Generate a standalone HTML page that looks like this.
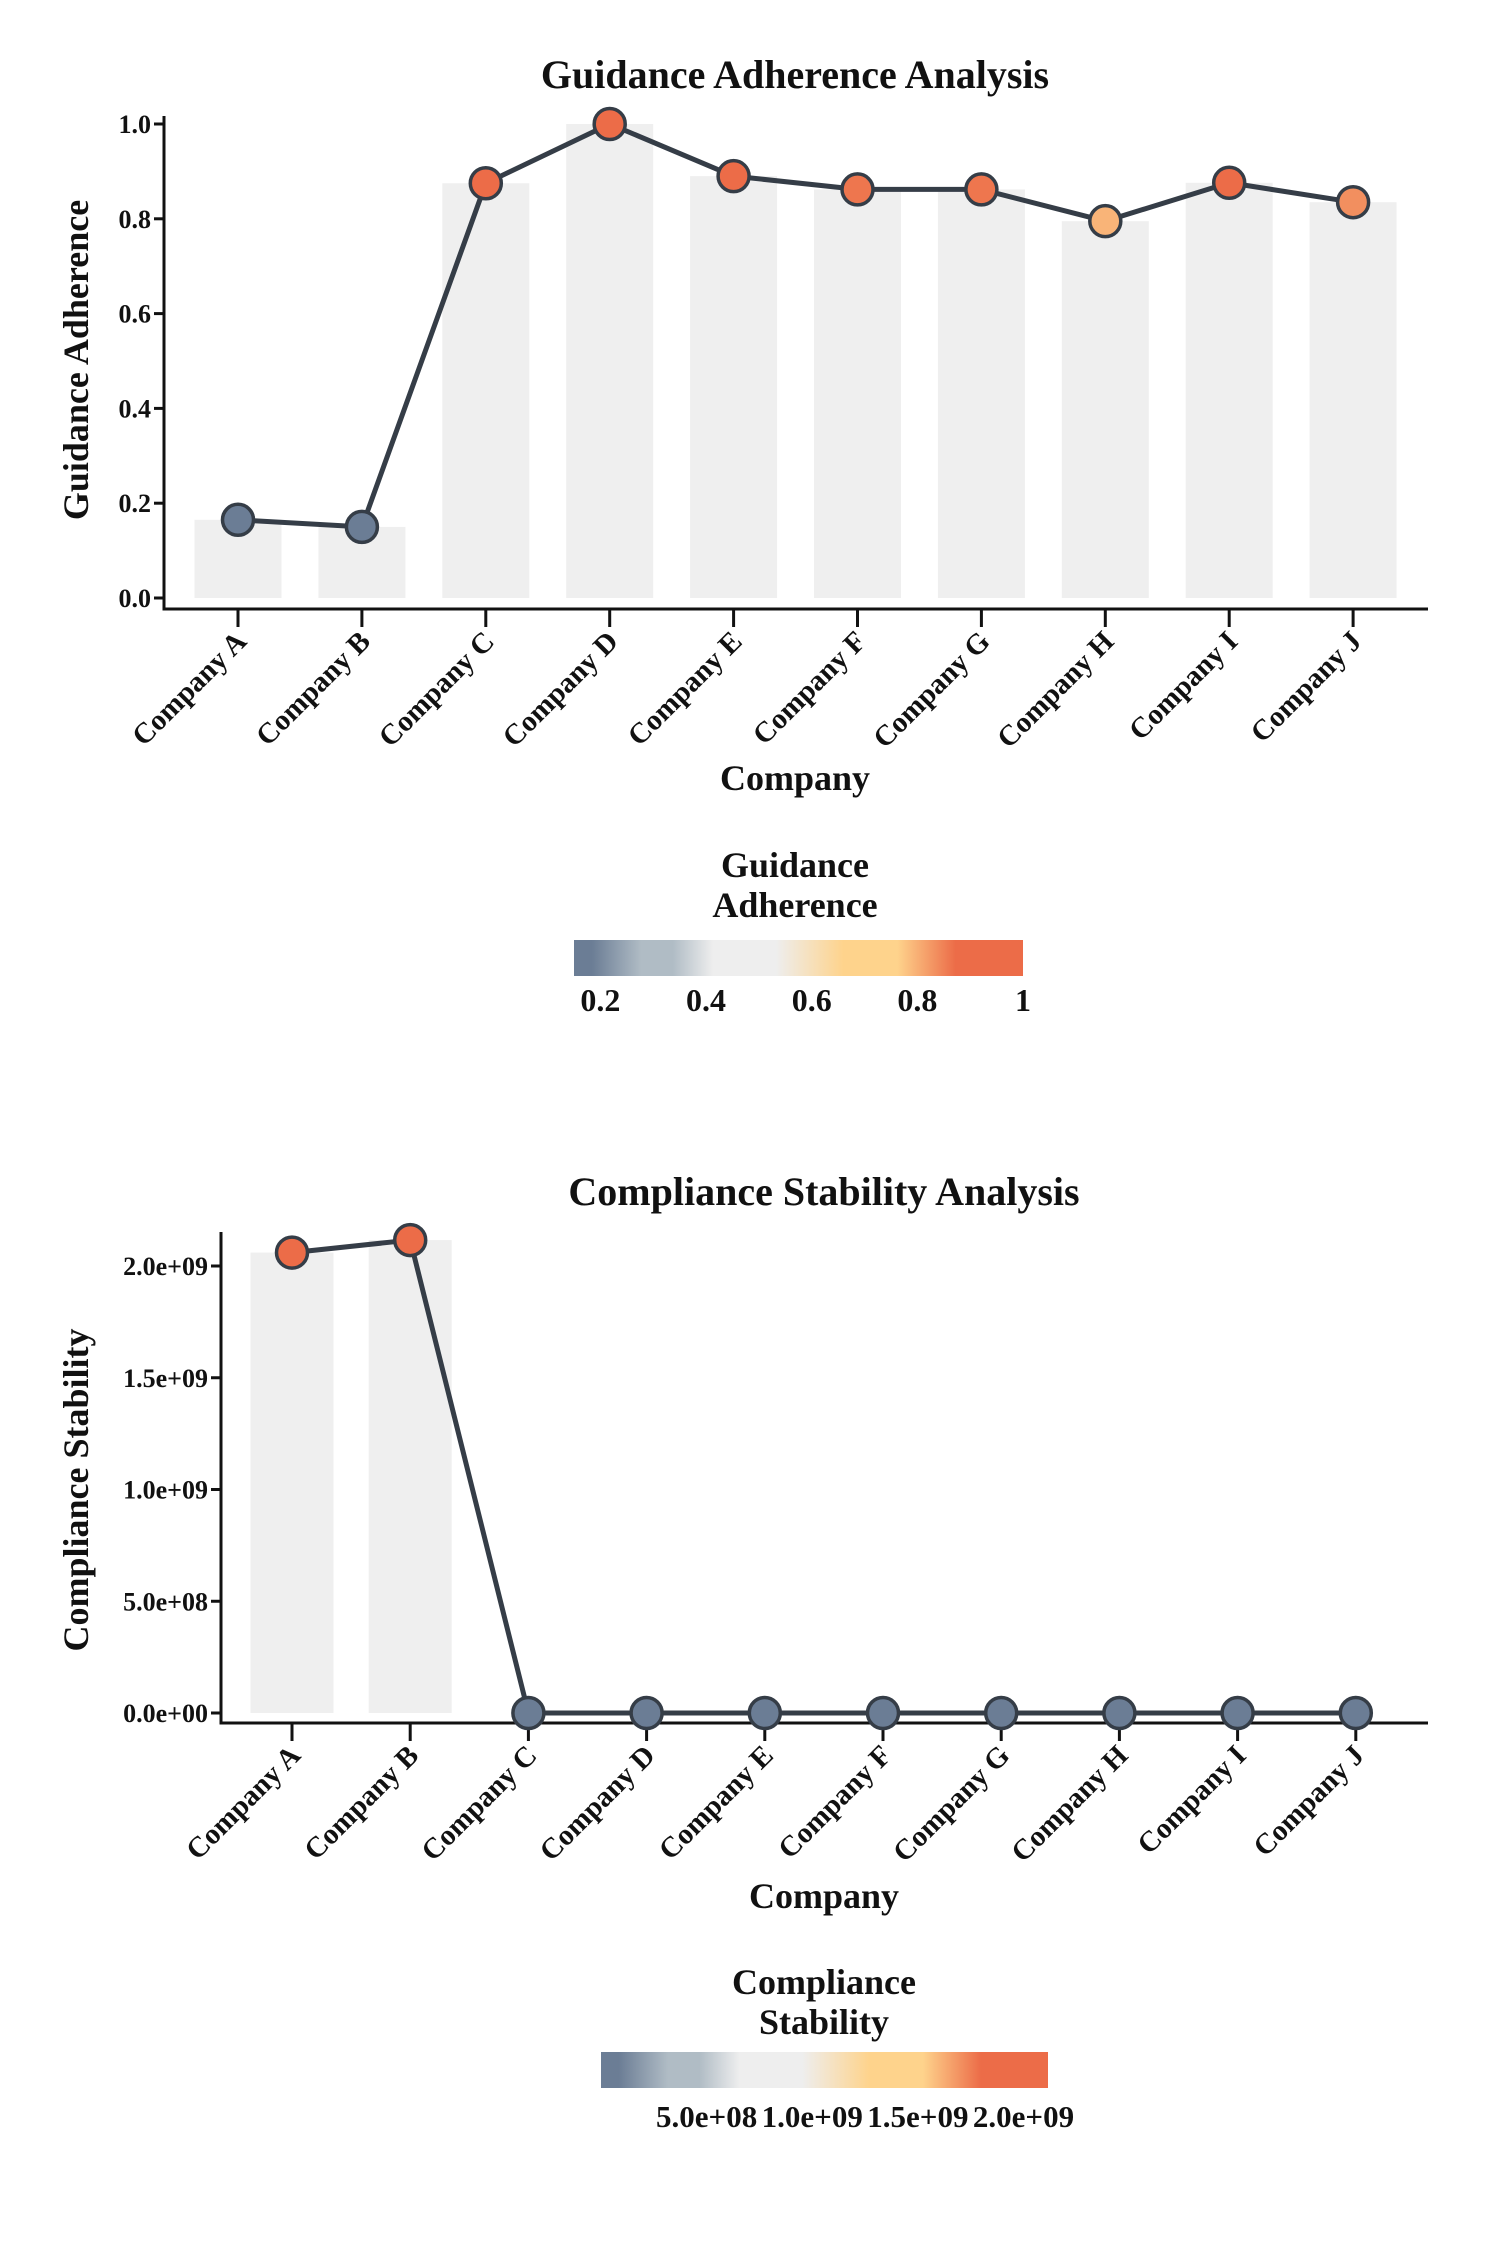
<!DOCTYPE html>
<html><head><meta charset="utf-8">
<style>
html,body{margin:0;padding:0;background:#fff;}
svg{display:block;font-family:"Liberation Serif",serif;font-weight:bold;}
</style></head>
<body>
<svg id="chart" width="1495" height="2242" viewBox="0 0 1495 2242" xmlns="http://www.w3.org/2000/svg">
<defs>
<linearGradient id="cmap" x1="0" x2="1" y1="0" y2="0">
<stop offset="0" stop-color="#6b7d95"/><stop offset="0.04" stop-color="#6b7d95"/>
<stop offset="0.15" stop-color="#b0bcc5"/><stop offset="0.22" stop-color="#b0bcc5"/>
<stop offset="0.31" stop-color="#eeeeee"/><stop offset="0.45" stop-color="#eeeeee"/>
<stop offset="0.6" stop-color="#fed38c"/><stop offset="0.72" stop-color="#fed38c"/>
<stop offset="0.85" stop-color="#ec6c48"/><stop offset="1" stop-color="#ec6c48"/>
</linearGradient>
</defs>
</svg>
<script>
const categories = ["Company A","Company B","Company C","Company D","Company E","Company F","Company G","Company H","Company I","Company J"];
const adherenceValues = [0.165,0.15,0.875,1.0,0.89,0.862,0.862,0.795,0.876,0.835];
const stabilityValues = [2.06e9,2.116e9,0,0,0,0,0,0,0,0];
const adherenceTicks = [0,0.2,0.4,0.6,0.8,1.0];
const adherenceTickLabels = ["0.0","0.2","0.4","0.6","0.8","1.0"];
const stabilityTicks = [0,5e8,1e9,1.5e9,2e9];
const stabilityTickLabels = ["0.0e+00","5.0e+08","1.0e+09","1.5e+09","2.0e+09"];
const adherenceCbTicks = [0.2,0.4,0.6,0.8,1];
const adherenceCbLabels = ["0.2","0.4","0.6","0.8","1"];
const stabilityCbTicks = [5e8,1e9,1.5e9,2e9];
const stabilityCbLabels = ["5.0e+08","1.0e+09","1.5e+09","2.0e+09"];

const NS="http://www.w3.org/2000/svg";
const svg=document.getElementById('chart');
function mk(tag,attrs,parent,text){const e=document.createElementNS(NS,tag);for(const k in attrs)e.setAttribute(k,attrs[k]);if(text!==undefined)e.textContent=text;(parent||svg).appendChild(e);return e;}
const stops=[[0,[107,125,149]],[0.04,[107,125,149]],[0.15,[176,188,197]],[0.22,[176,188,197]],[0.31,[238,238,238]],[0.45,[238,238,238]],[0.6,[254,211,140]],[0.72,[254,211,140]],[0.85,[236,108,72]],[1,[236,108,72]]];
function cmap(t){t=Math.max(0,Math.min(1,t));for(let i=1;i<stops.length;i++){if(t<=stops[i][0]){const a=stops[i-1],b=stops[i];const f=(t-a[0])/((b[0]-a[0])||1);const c=a[1].map((v,j)=>Math.round(v+(b[1][j]-v)*f));return `rgb(${c.join(',')})`;}}return 'rgb(236,108,72)';}

function drawChart(cfg){
  const g=mk('g',{});
  
  
  const x0=cfg.xFirst, step=cfg.step;
  const xs=i=>x0+i*step;
  const ys=v=>cfg.y0-(v-cfg.yMin)/(cfg.yMax-cfg.yMin)*(cfg.y0-cfg.y1);
  const t=mk('text',{x:cfg.titleX,y:cfg.titleY,'text-anchor':'middle','font-size':40,fill:'#111'},g,cfg.title);
  
  
  categories.forEach((c,i)=>{const v=cfg.values[i];const top=ys(v);
    const b=mk('rect',{x:xs(i)-cfg.barW/2,y:top,width:cfg.barW,height:Math.max(0,ys(cfg.yMin)-top),fill:'#efefef'},g);
    
    });
  const ya=mk('line',{x1:cfg.axisX,x2:cfg.axisX,y1:cfg.axisTop,y2:cfg.axisY,stroke:'#111','stroke-width':3},g);
  
  
  const xa=mk('line',{x1:cfg.axisX-1.5,x2:1428,y1:cfg.axisY,y2:cfg.axisY,stroke:'#111','stroke-width':3},g);
  
  
  cfg.yTicks.forEach((v,i)=>{const y=ys(v);
    mk('line',{x1:cfg.axisX-10,x2:cfg.axisX,y1:y,y2:y,stroke:'#111','stroke-width':3},g);
    const l=mk('text',{x:cfg.axisX-13,y:y+9,'text-anchor':'end','font-size':26,fill:'#111'},g,cfg.yLabels[i]);
    
    });
  categories.forEach((c,i)=>{const x=xs(i);
    mk('line',{x1:x,x2:x,y1:cfg.axisY,y2:cfg.axisY+18,stroke:'#111','stroke-width':3},g);
    const l=mk('text',{x:x+10,y:cfg.axisY+34,'text-anchor':'end','font-size':29,fill:'#111',transform:`rotate(-45 ${x+10} ${cfg.axisY+34})`},g,c);
    
    });
  const xt=mk('text',{x:cfg.titleX,y:cfg.xTitleY,'text-anchor':'middle','font-size':36,fill:'#111'},g,'Company');
  
  
  const yt=mk('text',{x:0,y:0,'text-anchor':'middle','font-size':36,fill:'#111',transform:`translate(88 ${cfg.yTitleY}) rotate(-90)`},g,cfg.yTitle);
  
  
  const pts=cfg.values.map((v,i)=>xs(i)+','+ys(v)).join(' ');
  const ln=mk('polyline',{points:pts,fill:'none',stroke:'#353d47','stroke-width':5,'stroke-linejoin':'round'},g);
  
  
  const vmin=Math.min(...cfg.values), vmax=Math.max(...cfg.values);
  cfg.values.forEach((v,i)=>{
    const p=mk('circle',{cx:xs(i),cy:ys(v),r:15.5,fill:cmap((v-vmin)/(vmax-vmin)),stroke:'#353d47','stroke-width':3.5},g);
    
    });
  const cbt1=mk('text',{x:cfg.titleX,y:cfg.cbTitleY,'text-anchor':'middle','font-size':36,fill:'#111'},g,cfg.cbTitle[0]);
  
  
  mk('text',{x:cfg.titleX,y:cfg.cbTitleY+40,'text-anchor':'middle','font-size':36,fill:'#111'},g,cfg.cbTitle[1]);
  const cb=mk('rect',{x:cfg.cbX0,y:cfg.cbY,width:cfg.cbX1-cfg.cbX0,height:36,fill:'url(#cmap)'},g);
  
  
  const cx=v=>cfg.cbX0+(v-vmin)/(vmax-vmin)*(cfg.cbX1-cfg.cbX0);
  cfg.cbTicks.forEach((v,i)=>{
    const l=mk('text',{x:cx(v),y:cfg.cbY+cfg.cbLabelDy,'text-anchor':'middle','font-size':cfg.cbFont,fill:'#111'},g,cfg.cbLabels[i]);
    
    });
}
drawChart({name:'guidance-adherence-chart',title:'Guidance Adherence Analysis',titleX:795,titleY:88,values:adherenceValues,
  xFirst:238,step:123.9,barW:87,yMin:0,yMax:1,y0:598,y1:124,axisX:164,axisTop:116,axisY:609,
  yTicks:adherenceTicks,yLabels:adherenceTickLabels,xTitleY:790,yTitle:'Guidance Adherence',yTitleY:360,
  cbTitle:['Guidance','Adherence'],cbTitleY:877,cbX0:574,cbX1:1023,cbY:940,cbLabelDy:71,cbTicks:adherenceCbTicks,cbLabels:adherenceCbLabels,cbFont:32});
drawChart({name:'compliance-stability-chart',title:'Compliance Stability Analysis',titleX:824,titleY:1205,values:stabilityValues,
  xFirst:292,step:118.2,barW:83,yMin:0,yMax:2e9,y0:1713,y1:1266,axisX:221,axisTop:1232,axisY:1723,
  yTicks:stabilityTicks,yLabels:stabilityTickLabels,xTitleY:1908,yTitle:'Compliance Stability',yTitleY:1490,
  cbTitle:['Compliance','Stability'],cbTitleY:1994,cbX0:601,cbX1:1048,cbY:2052,cbLabelDy:75,cbTicks:stabilityCbTicks,cbLabels:stabilityCbLabels,cbFont:31});
</script>
</body></html>
